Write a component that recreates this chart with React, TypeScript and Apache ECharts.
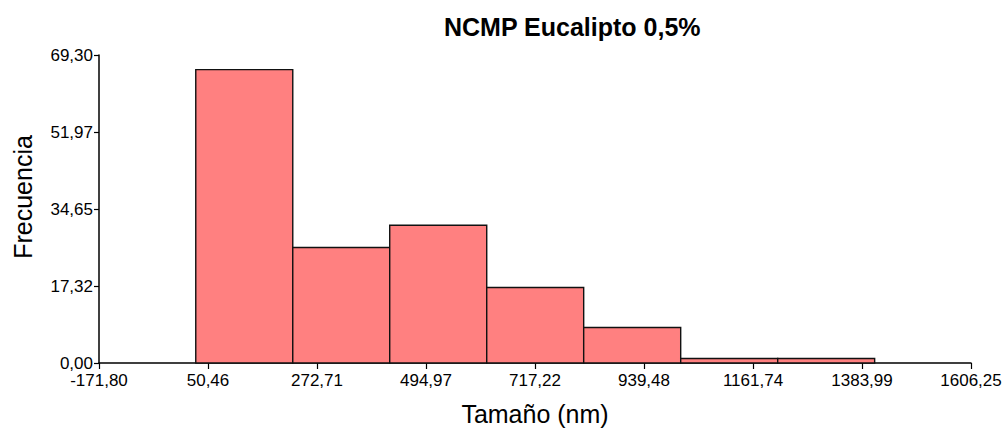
import React, { useEffect, useRef } from "react";
import * as echarts from "echarts";

const binEdges = [25.5, 223.3, 421.0, 618.8, 816.5, 1014.3, 1212.1, 1409.8];
const counts = [66, 26, 31, 17, 8, 1, 1];
const xTicks = [-171.8, 50.46, 272.71, 494.97, 717.22, 939.48, 1161.74, 1383.99, 1606.25];
const yTicks = [0, 17.325, 34.65, 51.975, 69.3];
const yTickLabels = ["0,00", "17,32", "34,65", "51,97", "69,30"];

const FONT = "Liberation Sans, Arial, sans-serif";

export default function App() {
  const ref = useRef<HTMLDivElement>(null);
  useEffect(() => {
    if (!ref.current) return;
    const chart = echarts.init(ref.current, null, { renderer: "svg" });
    const data = counts.map((c, i) => [binEdges[i], binEdges[i + 1], c]);
    chart.setOption({
      animation: false,
      backgroundColor: "#ffffff",
      textStyle: { fontFamily: FONT },
      grid: { left: 99, right: 37, top: 55, bottom: 65, containLabel: false },
      graphic: [
        {
          type: "text",
          left: 444,
          top: 14,
          style: {
            text: "NCMP Eucalipto 0,5%",
            fontFamily: FONT,
            fontSize: 25,
            fontWeight: "bold",
            fill: "#000",
          },
        },
        {
          type: "text",
          x: 23,
          y: 197,
          rotation: Math.PI / 2,
          style: {
            text: "Frecuencia",
            fontFamily: FONT,
            fontSize: 25,
            fill: "#000",
            align: "center",
            verticalAlign: "middle",
          },
        },
      ],
      xAxis: {
        type: "value",
        min: xTicks[0],
        max: xTicks[xTicks.length - 1],
        name: "Tamaño (nm)",
        nameLocation: "middle",
        nameGap: 38,
        nameTextStyle: { fontFamily: FONT, fontSize: 25, color: "#000" },
        axisLine: { show: true, onZero: false, lineStyle: { color: "#000", width: 1.5 } },
        axisTick: { show: true, length: 6, customValues: xTicks, lineStyle: { color: "#000", width: 1.2 } },
        axisLabel: {
          customValues: xTicks,
          margin: 9,
          fontFamily: FONT,
          fontSize: 17,
          color: "#000",
          formatter: (v: number) => v.toFixed(2).replace(".", ","),
        },
        splitLine: { show: false },
      },
      yAxis: {
        type: "value",
        min: yTicks[0],
        max: yTicks[yTicks.length - 1],
        axisLine: { show: true, onZero: false, lineStyle: { color: "#000", width: 1.5 } },
        axisTick: { show: true, length: 5, customValues: yTicks, lineStyle: { color: "#000", width: 1.2 } },
        axisLabel: {
          customValues: yTicks,
          margin: 6,
          fontFamily: FONT,
          fontSize: 17,
          color: "#000",
          formatter: (v: number) => {
            let best = 0;
            yTicks.forEach((t, i) => {
              if (Math.abs(t - v) < Math.abs(yTicks[best] - v)) best = i;
            });
            return yTickLabels[best];
          },
        },
        splitLine: { show: false },
      },
      series: [
        {
          type: "custom",
          data,
          encode: { x: [0, 1], y: 2 },
          renderItem: (params: any, api: any) => {
            const s = api.coord([api.value(0), api.value(2)]);
            const e = api.coord([api.value(1), 0]);
            return {
              type: "rect",
              shape: { x: s[0], y: s[1], width: e[0] - s[0], height: e[1] - s[1] },
              style: { fill: "#FF8080", stroke: "#111", lineWidth: 1.4 },
            };
          },
        },
      ],
    });
    return () => chart.dispose();
  }, []);
  return (
    <div
      ref={ref}
      style={{ position: "fixed", left: 0, top: 0, width: 1008, height: 431, background: "#fff" }}
    />
  );
}
